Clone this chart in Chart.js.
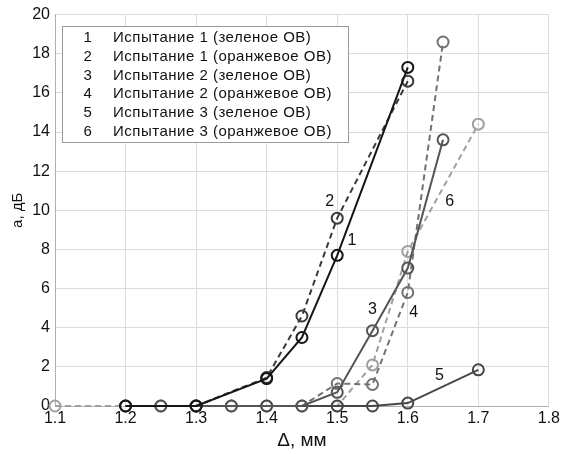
<!DOCTYPE html>
<html>
<head>
<meta charset="utf-8">
<script src="https://cdn.jsdelivr.net/npm/chart.js@4"></script>
<style>
  html, body { margin: 0; padding: 0; background: #fff; }
  #wrap { width: 563px; height: 454px; }
</style>
</head>
<body>
<div id="wrap"><canvas id="chart"></canvas></div>
<script>
// series data (Δ in mm, a in dB)
const x1 = [1.2, 1.3, 1.4, 1.45, 1.5, 1.6];
const y1 = [0, 0, 1.4, 3.5, 7.7, 17.3];
const x2 = [1.2, 1.3, 1.4, 1.45, 1.5, 1.6];
const y2 = [0, 0, 1.45, 4.6, 9.6, 16.6];
const x3 = [1.25, 1.35, 1.45, 1.5, 1.55, 1.6, 1.65];
const y3 = [0, 0, 0, 0.7, 3.85, 7.05, 13.6];
const x4 = [1.25, 1.35, 1.45, 1.5, 1.55, 1.6, 1.65];
const y4 = [0, 0, 0, 1.15, 1.1, 5.8, 18.6];
const x5 = [1.3, 1.4, 1.5, 1.55, 1.6, 1.7];
const y5 = [0, 0, 0, 0, 0.15, 1.85];
const x6 = [1.1, 1.2, 1.3, 1.4, 1.5, 1.55, 1.6, 1.7];
const y6 = [0, 0, 0, 0, 0, 2.1, 7.9, 14.4];

const seriesNames = [
  'Испытание 1 (зеленое ОВ)',
  'Испытание 1 (оранжевое ОВ)',
  'Испытание 2 (зеленое ОВ)',
  'Испытание 2 (оранжевое ОВ)',
  'Испытание 3 (зеленое ОВ)',
  'Испытание 3 (оранжевое ОВ)'
];
const seriesNums = ['1', '2', '3', '4', '5', '6'];

// curve number labels placed next to the lines (data coords)
const tagX = [1.521, 1.4895, 1.550, 1.6085, 1.645, 1.6595];
const tagY = [8.44, 10.43, 4.91, 4.76, 1.53, 10.43];

const xTicks = [1.1, 1.2, 1.3, 1.4, 1.5, 1.6, 1.7, 1.8];

function pts(xs, ys) {
  return xs.map((x, i) => ({ x: x, y: ys[i] }));
}

function makeSet(label, xs, ys, color, dashed) {
  return {
    label: label,
    data: pts(xs, ys),
    borderColor: color,
    backgroundColor: color,
    borderWidth: 2,
    borderDash: dashed ? [6, 4] : [],
    pointRadius: 5.5,
    pointBorderWidth: 2,
    pointBorderColor: color,
    pointBackgroundColor: 'rgba(0,0,0,0)',
    tension: 0,
    clip: false
  };
}

const FONT = 'Liberation Sans, Arial, sans-serif';

// legend box + curve numbers
const extras = {
  id: 'extras',
  afterDatasetsDraw(chart) {
    const ctx = chart.ctx;
    const xs = chart.scales.x, ys = chart.scales.y;
    ctx.save();
    ctx.font = '16px ' + FONT;
    ctx.fillStyle = '#111';
    ctx.textAlign = 'center';
    ctx.textBaseline = 'middle';
    seriesNums.forEach((n, i) => {
      ctx.fillText(n, xs.getPixelForValue(tagX[i]), ys.getPixelForValue(tagY[i]));
    });

    // legend
    const bx = 62, by = 26, bw = 286, bh = 116;
    ctx.fillStyle = '#fff';
    ctx.fillRect(bx, by, bw, bh);
    ctx.strokeStyle = '#999';
    ctx.lineWidth = 1;
    ctx.strokeRect(bx + 0.5, by + 0.5, bw, bh);
    ctx.fillStyle = '#111';
    ctx.font = '15px ' + FONT;
    ctx.letterSpacing = '0.5px';
    seriesNames.forEach((name, i) => {
      const yy = 38 + i * 18.7;
      ctx.textAlign = 'center';
      ctx.fillText(seriesNums[i], 88, yy);
      ctx.textAlign = 'left';
      ctx.fillText(name, 113, yy);
    });
    ctx.restore();
  }
};

new Chart(document.getElementById('chart').getContext('2d'), {
  type: 'line',
  data: {
    datasets: [
      makeSet(seriesNames[0], x1, y1, '#161616', false),
      makeSet(seriesNames[1], x2, y2, '#3a3a3a', true),
      makeSet(seriesNames[2], x3, y3, '#555555', false),
      makeSet(seriesNames[3], x4, y4, '#727272', true),
      makeSet(seriesNames[4], x5, y5, '#464646', false),
      makeSet(seriesNames[5], x6, y6, '#a0a0a0', true)
    ]
  },
  options: {
    responsive: true,
    maintainAspectRatio: false,
    animation: false,
    layout: { padding: { left: 9, right: 14, top: 11, bottom: 2 } },
    plugins: {
      legend: { display: false },
      tooltip: { enabled: false }
    },
    scales: {
      x: {
        type: 'linear',
        min: 1.1,
        max: 1.8,
        afterBuildTicks(scale) {
          scale.ticks = xTicks.map(v => ({ value: v }));
        },
        ticks: {
          color: '#111',
          font: { family: FONT, size: 16 },
          padding: 3,
          maxRotation: 0,
          callback: v => v.toFixed(1)
        },
        grid: { color: '#dcdcdc', drawTicks: false },
        border: { color: '#b0b0b0' },
        title: {
          display: true,
          text: 'Δ, мм',
          color: '#111',
          font: { family: FONT, size: 19 },
          padding: { top: 4, bottom: 0 }
        },
        afterFit(scale) { scale.height = 46; }
      },
      y: {
        min: 0,
        max: 20,
        ticks: {
          stepSize: 2,
          color: '#111',
          font: { family: FONT, size: 16 },
          padding: 5
        },
        grid: { color: '#dcdcdc', drawTicks: false },
        border: { color: '#b0b0b0' },
        title: {
          display: true,
          text: 'а, дБ',
          color: '#111',
          font: { family: FONT, size: 15 },
          padding: { top: 0, bottom: 4 }
        },
        afterFit(scale) { scale.width = 46; }
      }
    }
  },
  plugins: [extras]
});
</script>
</body>
</html>
